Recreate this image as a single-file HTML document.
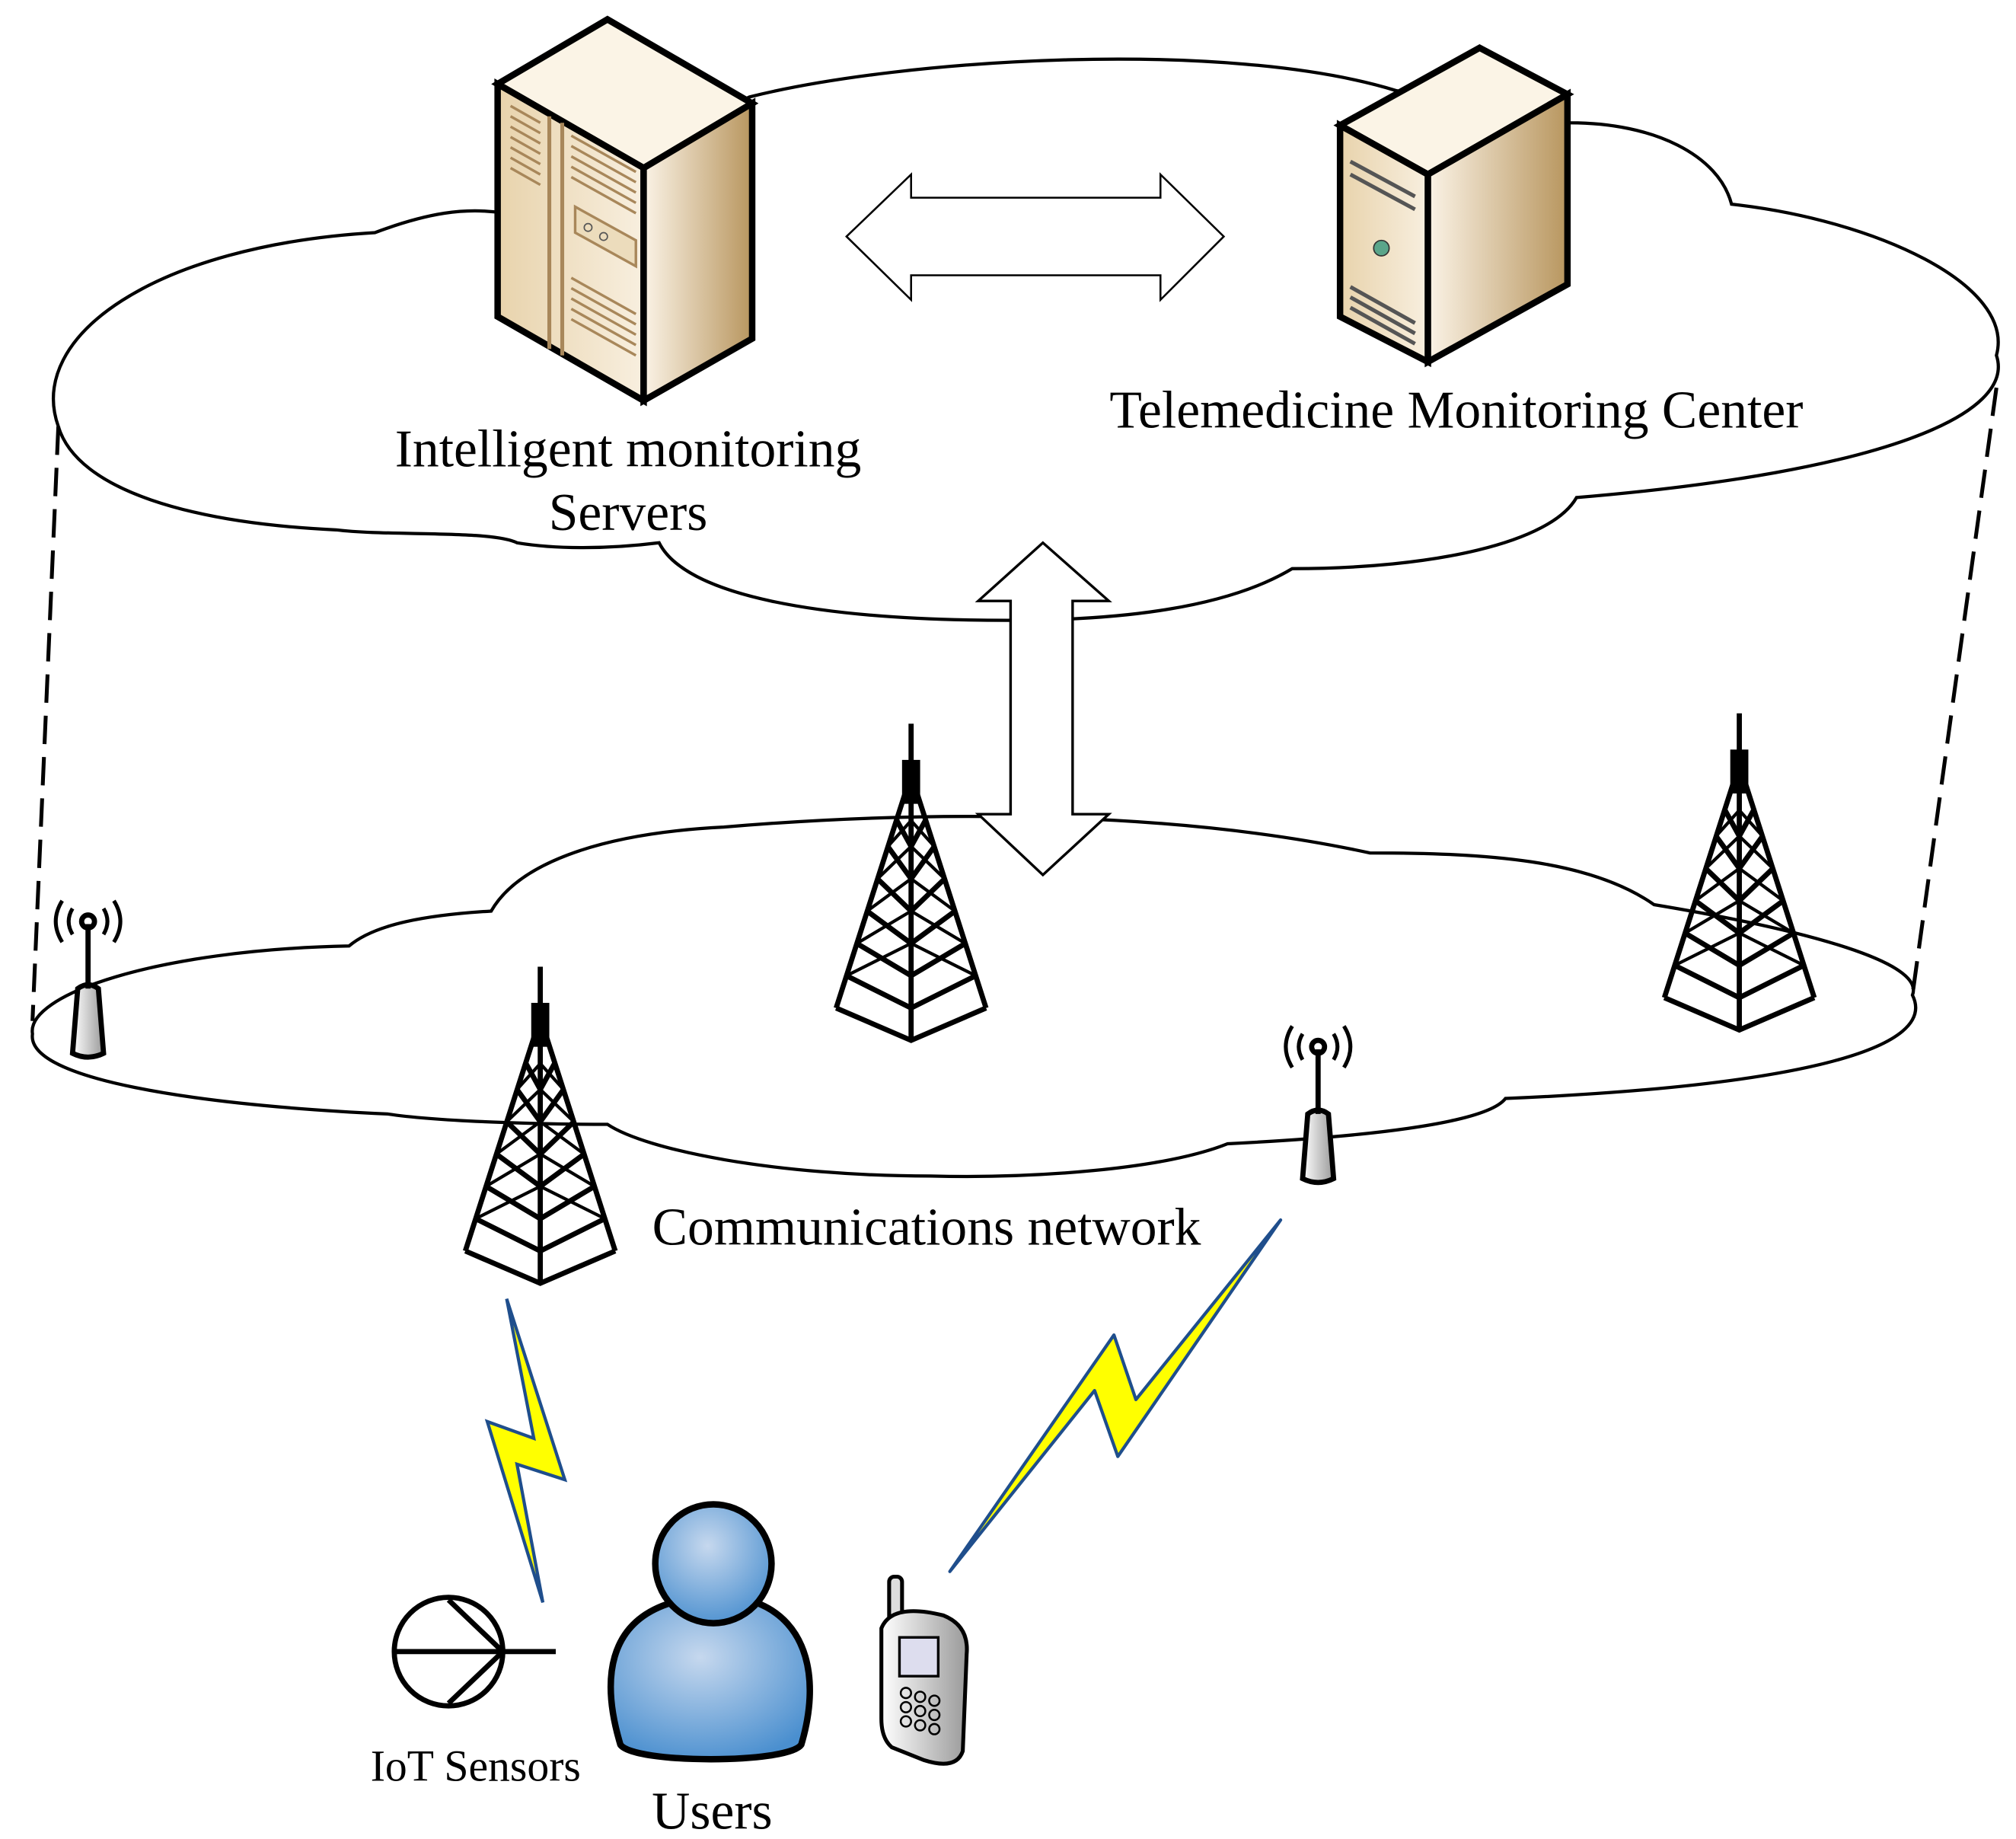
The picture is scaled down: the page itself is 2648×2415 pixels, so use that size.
<!DOCTYPE html>
<html><head><meta charset="utf-8"><style>html,body{margin:0;padding:0;background:#fff}svg{display:block}</style></head><body>
<svg width="2648" height="2415" viewBox="0 0 1560 1423" xmlns="http://www.w3.org/2000/svg" font-family="'Liberation Serif',serif">
<defs>
<linearGradient id="tan" x1="0" y1="0" x2="1" y2="0"><stop offset="0" stop-color="#fbf3e6"/><stop offset="1" stop-color="#b8965f"/></linearGradient>
<linearGradient id="front" x1="0" y1="0" x2="1" y2="0"><stop offset="0" stop-color="#e8d3ac"/><stop offset="1" stop-color="#f8efdf"/></linearGradient>
<radialGradient id="blue" cx="0.45" cy="0.35" r="0.7"><stop offset="0" stop-color="#c6d8ee"/><stop offset="1" stop-color="#4a8fcf"/></radialGradient>
<linearGradient id="phone" x1="0" y1="0" x2="1" y2="0"><stop offset="0" stop-color="#fff"/><stop offset="1" stop-color="#9a9a9a"/></linearGradient>
<g id="tower" fill="none" stroke="#000" stroke-width="4">
<line x1="0" y1="0" x2="0" y2="40"/>
<rect x="-5" y="30" width="10" height="30" fill="#000"/>
<path d="M-5,55 L-58,220 M5,55 L58,220 M0,60 L0,245"/>
<path d="M-58,220 L0,245 L58,220 M-50,195 L0,220 L50,195 M-42,170 L0,195 L42,170 M-34,145 L0,170 L34,145 M-26,120 L0,145 L26,120 M-18,95 L0,120 L18,95 M-11,75 L0,95 L11,75"/>
<path d="M-50,195 L0,170 L50,195 M-42,170 L0,145 L42,170 M-34,145 L0,120 L34,145 M-26,120 L0,95 L26,120 M-18,95 L0,75 L18,95" stroke-width="2.5"/>
</g>
<g id="ant">
<path d="M-12,50 L-8,0 Q0,-6 8,0 L12,50 Q0,56 -12,50 Z" fill="url(#phone)" stroke="#000" stroke-width="4"/>
<line x1="0" y1="-50" x2="0" y2="0" stroke="#000" stroke-width="4"/>
<circle cx="0" cy="-52" r="5" fill="none" stroke="#000" stroke-width="4"/>
<path d="M-12,-62 Q-18,-52 -12,-42 M12,-62 Q18,-52 12,-42 M-20,-68 Q-30,-52 -20,-36 M20,-68 Q30,-52 20,-36" fill="none" stroke="#000" stroke-width="3"/>
</g>
</defs>
<path d="M45,330 C20,260 120,190 290,180 C330,165 360,160 390,165 L580,75 C700,45 950,30 1080,70 L1215,95 C1280,95 1330,120 1340,158 C1450,170 1560,220 1545,275 C1560,320 1460,365 1220,385 C1200,420 1110,440 1000,440 C950,470 870,480 780,480 C630,480 530,460 510,420 C470,425 430,425 400,420 C380,410 300,415 260,410 C150,405 60,380 45,330 Z" fill="#fff" stroke="#000" stroke-width="2.5"/>
<path d="M25,800 C20,770 120,735 270,732 C290,715 330,708 380,705 C400,670 460,645 560,640 C700,628 900,625 1060,660 C1150,660 1230,665 1280,700 C1400,720 1490,745 1480,770 C1500,810 1400,840 1165,850 C1150,870 1050,880 950,885 C900,905 800,912 720,910 C600,910 500,890 470,870 C420,870 340,868 300,862 C150,855 20,835 25,800 Z" fill="#fff" stroke="#000" stroke-width="2.5"/>
<path d="M45,330 L25,790 M1545,300 L1480,770" stroke="#000" stroke-width="3" stroke-dasharray="22,10" fill="none"/>
<polygon points="655,183 705,135 705,153 898,153 898,135 947,183 898,232 898,213 705,213 705,232" fill="#fff" stroke="#000" stroke-width="1.5"/>
<polygon points="807,420 858,465 830,465 830,630 858,630 807,677 757,630 782,630 782,465 757,465" fill="#fff" stroke="#000" stroke-width="2"/>
<polygon points="385,65 470,15 582,80 498,130" fill="#fbf4e6" stroke="#000" stroke-width="5"/>
<polygon points="385,65 498,130 498,310 385,245" fill="url(#front)" stroke="#000" stroke-width="5"/>
<polygon points="498,130 582,80 582,262 498,310" fill="url(#tan)" stroke="#000" stroke-width="5"/>
<path d="M425,90 L425,270 M435,95 L435,275" stroke="#a8875a" stroke-width="3"/>
<g stroke="#a8875a" stroke-width="2"><path d="M395,82 L418,95 M395,90 L418,103 M395,98 L418,111 M395,106 L418,119 M395,114 L418,127 M395,122 L418,135 M395,130 L418,143 M442,105 L492,133 M442,113 L492,141 M442,121 L492,149 M442,129 L492,157 M442,137 L492,165 M442,215 L492,243 M442,223 L492,251 M442,231 L492,259 M442,239 L492,267 M442,247 L492,275"/></g>
<polygon points="445,160 492,186 492,206 445,180" fill="#ecdcbc" stroke="#a8875a" stroke-width="2"/>
<circle cx="455" cy="176" r="3" fill="none" stroke="#555"/><circle cx="467" cy="183" r="3" fill="none" stroke="#555"/>
<polygon points="1037,97 1145,37 1213,73 1105,135" fill="#fbf4e6" stroke="#000" stroke-width="5"/>
<polygon points="1037,97 1105,135 1105,280 1037,245" fill="url(#front)" stroke="#000" stroke-width="5"/>
<polygon points="1105,135 1213,73 1213,220 1105,280" fill="url(#tan)" stroke="#000" stroke-width="5"/>
<path d="M1045,125 L1095,152 M1045,135 L1095,162 M1045,222 L1095,250 M1045,230 L1095,258 M1045,238 L1095,266" stroke="#555" stroke-width="3"/>
<circle cx="1069" cy="192" r="6" fill="#5aa58a" stroke="#333"/>
<use href="#tower" transform="translate(705,560)"/>
<use href="#tower" transform="translate(418,748)"/>
<use href="#tower" transform="translate(1346,552)"/>
<use href="#ant" transform="translate(68,765)"/>
<use href="#ant" transform="translate(1020,862)"/>
<polygon points="392,1005 437,1145 400,1133 420,1240 377,1100 413,1113" fill="#ffff00" stroke="#1f4e8c" stroke-width="2.5"/>
<polygon points="991,944 879,1083 862,1033 735,1216 847,1076 865,1127" fill="#ffff00" stroke="#1f4e8c" stroke-width="2.5" stroke-linejoin="round"/>
<circle cx="347" cy="1278" r="42" fill="#fff" stroke="#000" stroke-width="4"/>
<path d="M305,1278 L430,1278 M347,1238 L389,1278 L347,1318" fill="none" stroke="#000" stroke-width="4"/>
<path d="M480,1350 C465,1300 470,1255 520,1240 C545,1250 560,1250 585,1240 C625,1255 635,1300 620,1350 C610,1365 490,1365 480,1350 Z" fill="url(#blue)" stroke="#000" stroke-width="5"/>
<ellipse cx="552" cy="1210" rx="45" ry="46" fill="url(#blue)" stroke="#000" stroke-width="5"/>
<rect x="688" y="1220" width="10" height="35" rx="4" fill="#ddd" stroke="#000" stroke-width="3"/>
<path d="M682,1260 Q690,1240 730,1250 Q750,1258 748,1280 L745,1355 Q740,1370 715,1362 L690,1352 Q682,1345 682,1330 Z" fill="url(#phone)" stroke="#000" stroke-width="3"/>
<rect x="696" y="1267" width="30" height="30" fill="#dde" stroke="#000" stroke-width="2"/>
<g fill="none" stroke="#000" stroke-width="1.5"><circle cx="701" cy="1310" r="4"/><circle cx="712" cy="1313" r="4"/><circle cx="723" cy="1316" r="4"/><circle cx="701" cy="1321" r="4"/><circle cx="712" cy="1324" r="4"/><circle cx="723" cy="1327" r="4"/><circle cx="701" cy="1332" r="4"/><circle cx="712" cy="1335" r="4"/><circle cx="723" cy="1338" r="4"/></g>
<g font-size="41" text-anchor="middle" fill="#000">
<text x="486" y="361">Intelligent monitoring</text>
<text x="486" y="410">Servers</text>
<text x="1127" y="331">Telemedicine Monitoring Center</text>
<text x="717" y="963">Communications network</text>
<text x="551" y="1415">Users</text>
<text x="368" y="1378" font-size="34">IoT Sensors</text>
</g>
</svg>
</body></html>
